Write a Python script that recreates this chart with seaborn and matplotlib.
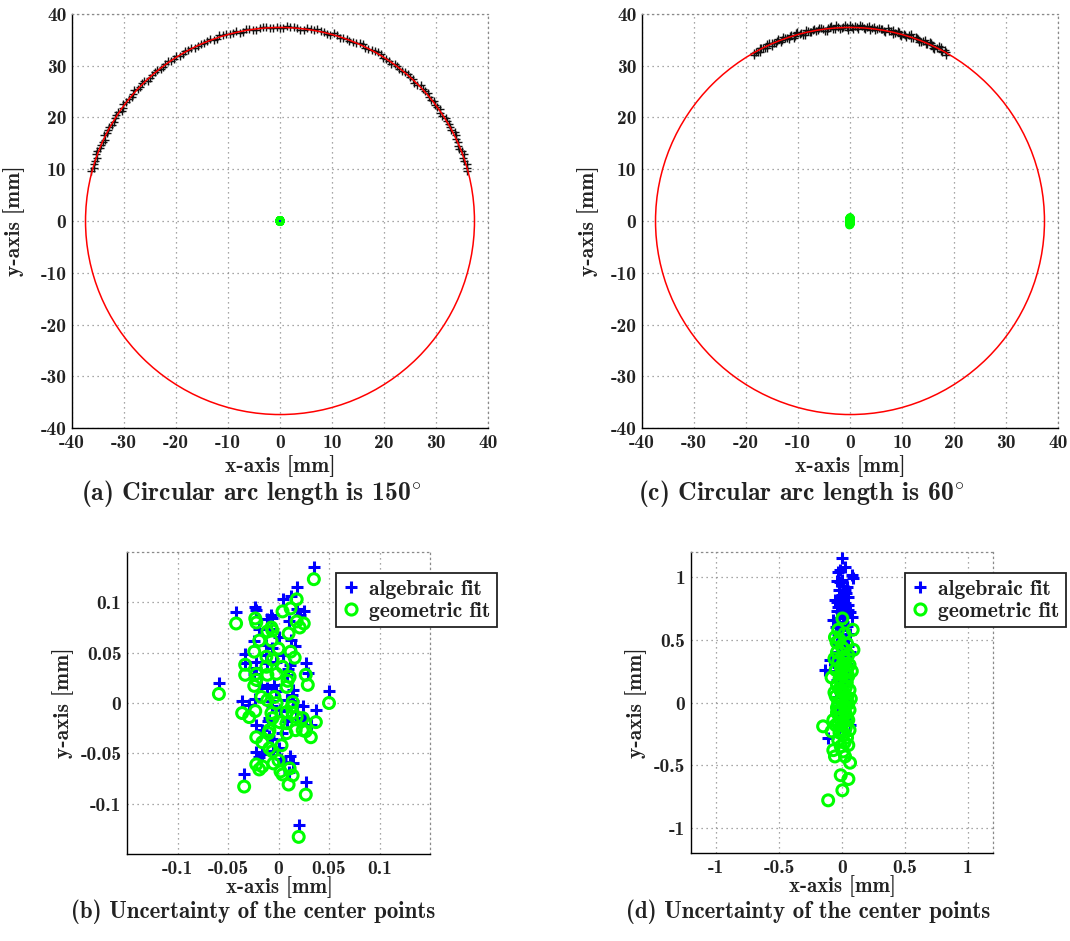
import numpy as np
import pandas as pd
import seaborn as sns
import matplotlib.pyplot as plt
from matplotlib.patches import Circle
from matplotlib.lines import Line2D
from matplotlib.ticker import MultipleLocator

# measured points on the arcs: angle [deg], radius [mm]
ang_a = [15, 17, 19, 21, 23, 25, 27, 29, 31, 33, 35, 37, 39, 41, 43, 45, 47, 49, 51, 53,
         55, 57, 59, 61, 63, 65, 67, 69, 71, 73, 75, 77, 79, 81, 83, 85, 87, 89, 91, 93,
         95, 97, 99, 101, 103, 105, 107, 109, 111, 113, 115, 117, 119, 121, 123, 125, 127, 129, 131, 133,
         135, 137, 139, 141, 143, 145, 147, 149, 151, 153, 155, 157, 159, 161, 163, 165]
rad_a = [37.2, 37.6, 37.3, 37.5, 37.1, 37.4, 37.7, 37.3, 37.5, 37.2,
         37.6, 37.4, 37.3, 37.7, 37.5, 37.2, 37.4, 37.6, 37.3, 37.5,
         37.1, 37.4, 37.6, 37.5, 37.3, 37.7, 37.4, 37.2, 37.5, 37.6,
         37.3, 37.4, 37.7, 37.5, 37.2, 37.4, 37.6, 37.3, 37.5, 37.4,
         37.6, 37.2, 37.5, 37.3, 37.7, 37.4, 37.5, 37.2, 37.6, 37.3,
         37.4, 37.6, 37.5, 37.2, 37.4, 37.7, 37.3, 37.5, 37.4, 37.1,
         37.6, 37.3, 37.5, 37.4, 37.7, 37.2, 37.5, 37.3, 37.6, 37.4,
         37.2, 37.5, 37.7, 37.3, 37.4, 37.6]
ang_a2 = [16, 18, 20, 22, 24, 26, 28, 30, 32, 34, 36, 38, 40, 42, 44, 46, 48, 50, 52, 54,
          56, 58, 60, 62, 64, 66, 68, 70, 72, 74, 76, 78, 80, 82, 84, 86, 88, 90, 92, 94,
          96, 98, 100, 102, 104, 106, 108, 110, 112, 114, 116, 118, 120, 122, 124, 126, 128, 130, 132, 134,
          136, 138, 140, 142, 144, 146, 148, 150, 152, 154, 156, 158, 160, 162, 164]
rad_a2 = [37.5, 37.3, 37.6, 37.2, 37.4, 37.7, 37.3, 37.5, 37.6, 37.2,
          37.4, 37.6, 37.3, 37.5, 37.7, 37.2, 37.4, 37.5, 37.3, 37.6,
          37.4, 37.2, 37.7, 37.5, 37.3, 37.6, 37.4, 37.5, 37.2, 37.7,
          37.3, 37.5, 37.4, 37.6, 37.2, 37.5, 37.7, 37.3, 37.4, 37.6,
          37.5, 37.3, 37.6, 37.2, 37.4, 37.5, 37.7, 37.3, 37.6, 37.4,
          37.2, 37.5, 37.3, 37.7, 37.4, 37.6, 37.2, 37.5, 37.3, 37.6,
          37.4, 37.7, 37.2, 37.5, 37.3, 37.6, 37.4, 37.2, 37.5, 37.7,
          37.3, 37.4, 37.6, 37.5, 37.2]

ang_c = [60, 61, 62, 63, 64, 65, 66, 67, 68, 69, 70, 71, 72, 73, 74, 75, 76, 77, 78, 79,
         80, 81, 82, 83, 84, 85, 86, 87, 88, 89, 90, 91, 92, 93, 94, 95, 96, 97, 98, 99,
         100, 101, 102, 103, 104, 105, 106, 107, 108, 109, 110, 111, 112, 113, 114, 115, 116, 117, 118, 119,
         120]
rad_c = [37.1, 37.7, 37.3, 37.9, 37.0, 37.5, 37.8, 37.2, 37.6, 37.0,
         37.7, 37.4, 37.9, 37.1, 37.6, 37.3, 37.8, 37.0, 37.5, 37.9,
         37.2, 37.6, 37.4, 37.8, 37.1, 37.7, 37.3, 38.0, 37.5, 37.2,
         37.8, 37.4, 37.6, 37.1, 37.9, 37.3, 37.7, 37.0, 37.5, 37.8,
         37.2, 37.6, 37.4, 37.9, 37.1, 37.5, 37.7, 37.0, 37.6, 37.3,
         37.8, 37.1, 37.5, 37.4, 37.0, 37.7, 37.2, 37.6, 36.9, 37.4,
         37.1]
ang_c2 = [60.5, 61.5, 62.5, 63.5, 64.5, 65.5, 66.5, 67.5, 68.5, 69.5,
          70.5, 71.5, 72.5, 73.5, 74.5, 75.5, 76.5, 77.5, 78.5, 79.5,
          80.5, 81.5, 82.5, 83.5, 84.5, 85.5, 86.5, 87.5, 88.5, 89.5,
          90.5, 91.5, 92.5, 93.5, 94.5, 95.5, 96.5, 97.5, 98.5, 99.5,
          100.5, 101.5, 102.5, 103.5, 104.5, 105.5, 106.5, 107.5, 108.5, 109.5,
          110.5, 111.5, 112.5, 113.5, 114.5, 115.5, 116.5, 117.5, 118.5, 119.5]
rad_c2 = [37.6, 37.2, 37.8, 37.4, 37.0, 37.7, 37.3, 37.9, 37.1, 37.5,
          37.8, 37.2, 37.6, 37.4, 37.0, 37.7, 37.3, 37.9, 37.5, 37.1,
          37.6, 37.8, 37.2, 37.5, 37.9, 37.3, 37.7, 37.1, 37.6, 37.4,
          37.0, 37.8, 37.3, 37.6, 37.2, 37.9, 37.5, 37.1, 37.7, 37.4,
          37.8, 37.2, 37.6, 37.0, 37.5, 37.9, 37.3, 37.7, 37.1, 37.6,
          37.4, 37.8, 37.2, 37.5, 37.7, 37.0, 37.4, 37.6, 37.1, 37.3]

R_FIT = 37.4

# fitted centre points, 150 deg arc
geo_x_b = [0.035, -0.042, 0.018, 0.004, 0.012, -0.023, -0.022, -0.007, -0.006, -0.011,
           0.018, 0.021, 0.025, 0.010, -0.019, -0.007, -0.024, 0.000, 0.012, 0.016,
           -0.033, -0.033, -0.012, -0.006, -0.012, 0.004, -0.002, -0.011, -0.022, -0.022,
           -0.024, 0.027, 0.029, 0.011, 0.009, 0.008, -0.059, -0.017, -0.011, -0.004,
           -0.002, 0.014, 0.013, 0.008, 0.050, -0.036, -0.029, -0.023, -0.007, -0.006,
           0.001, 0.008, 0.018, 0.024, 0.037, 0.014, -0.009, -0.010, 0.008, 0.017,
           0.024, 0.027, -0.022, -0.016, 0.032, 0.003, -0.009, -0.006, -0.022, -0.019,
           -0.016, -0.005, 0.000, 0.002, 0.004, 0.011, 0.014, 0.010, -0.034, 0.027,
           0.020]
geo_y_b = [0.123, 0.079, 0.103, 0.091, 0.094, 0.084, 0.080, 0.075, 0.072, 0.071,
           0.081, 0.075, 0.079, 0.069, 0.062, 0.062, 0.051, 0.054, 0.051, 0.045,
           0.038, 0.028, 0.046, 0.043, 0.036, 0.036, 0.029, 0.028, 0.029, 0.023,
           0.017, 0.028, 0.018, 0.026, 0.022, 0.016, 0.009, 0.006, 0.003, 0.006,
           0.000, 0.001, -0.004, -0.009, 0.000, -0.010, -0.014, -0.008, -0.010, -0.015,
           -0.019, -0.020, -0.014, -0.015, -0.019, -0.010, -0.027, -0.030, -0.030, -0.027,
           -0.027, -0.028, -0.034, -0.039, -0.034, -0.042, -0.045, -0.048, -0.061, -0.066,
           -0.063, -0.060, -0.057, -0.068, -0.071, -0.065, -0.072, -0.081, -0.083, -0.091,
           -0.133]
alg_x_b = geo_x_b
alg_y_b = [0.135, 0.090, 0.115, 0.103, 0.106, 0.095, 0.092, 0.087, 0.084, 0.083,
           0.093, 0.087, 0.091, 0.081, 0.074, 0.074, 0.062, 0.066, 0.063, 0.057,
           0.049, 0.040, 0.058, 0.055, 0.048, 0.048, 0.041, 0.040, 0.041, 0.035,
           0.029, 0.040, 0.030, 0.038, 0.034, 0.028, 0.020, 0.018, 0.015, 0.018,
           0.012, 0.013, 0.008, 0.003, 0.012, 0.002, -0.002, 0.004, 0.002, -0.003,
           -0.007, -0.008, -0.002, -0.003, -0.007, 0.002, -0.015, -0.018, -0.018, -0.015,
           -0.015, -0.016, -0.022, -0.027, -0.022, -0.030, -0.033, -0.036, -0.049, -0.054,
           -0.051, -0.048, -0.045, -0.056, -0.059, -0.053, -0.060, -0.069, -0.071, -0.078,
           -0.121]

# fitted centre points, 60 deg arc
geo_x_d = [0.003, 0.085, -0.030, -0.056, -0.043, 0.091, 0.078, 0.038, -0.083, -0.150,
           -0.083, -0.069, 0.064, -0.010, 0.051, 0.003, -0.110, -0.069, -0.056, 0.010,
           0.024,
           0.02, -0.02, 0.04, 0.00, -0.04, 0.05, 0.01, -0.03, 0.03, 0.06,
           -0.01, -0.05, 0.02, 0.05, -0.02, 0.00, -0.04, 0.03, 0.06, -0.01,
           0.02, -0.05, 0.04, 0.00, -0.03, 0.05, 0.02, -0.01, 0.06, -0.04,
           0.03, 0.00, -0.02, 0.05, 0.01, -0.05, 0.03, 0.06, -0.02, 0.01,
           0.04, -0.03, 0.02, 0.05, -0.01, 0.03, -0.02, 0.04, -0.06, 0.01,
           -0.03, 0.00, 0.04, -0.01, 0.02, -0.06, 0.07, -0.04, 0.00, 0.03]
geo_y_d = [0.67, 0.58, 0.58, 0.52, 0.48, 0.42, 0.25, 0.16, 0.20, -0.19,
           -0.23, -0.14, -0.48, -0.58, -0.61, -0.70, -0.78, -0.38, -0.43, -0.39,
           -0.43,
           0.55, 0.50, 0.47, 0.44, 0.40, 0.38, 0.36, 0.33, 0.31, 0.30,
           0.28, 0.26, 0.24, 0.21, 0.19, 0.17, 0.14, 0.12, 0.10, 0.09,
           0.07, 0.05, 0.04, 0.02, 0.00, -0.01, -0.03, -0.05, -0.06, -0.08,
           -0.09, -0.11, -0.13, -0.14, -0.16, -0.18, -0.20, -0.22, -0.24, -0.26,
           -0.28, -0.30, -0.32, -0.34, -0.35, 0.00, 0.11, 0.26, 0.35, 0.43,
           -0.17, -0.22, -0.12, 0.22, 0.34, 0.08, 0.03, -0.04, 0.30, 0.18]
alg_x_d = [0.003, -0.016, -0.030, 0.078, 0.085, -0.043, -0.016, 0.024, -0.003, -0.056,
           0.051, -0.030, 0.064, -0.069, 0.078, -0.136, -0.096, -0.110,
           0.01, -0.02, 0.03, 0.00, -0.04, 0.02, 0.05, -0.01, 0.03, -0.03,
           0.01, 0.04, -0.05, 0.00, 0.06, -0.02, 0.02, -0.04, 0.05, 0.01,
           -0.02, 0.03, -0.06, 0.00, 0.04, -0.03, 0.02, -0.01, 0.05, -0.04,
           0.01, 0.03, -0.02, 0.00, 0.04, -0.05, 0.02, -0.01, 0.05, 0.01,
           -0.03, 0.03, 0.00, 0.06, -0.02, 0.02, -0.01, 0.04, -0.03, 0.01,
           0.06, -0.05, 0.03, -0.02, 0.00, 0.02, -0.04, 0.05, -0.01, 0.02]
alg_y_d = [1.15, 1.06, 1.04, 1.02, 0.99, 0.97, 0.96, 0.90, 0.86, 0.82,
           0.78, 0.76, 0.72, 0.66, 0.68, 0.26, 0.34, -0.28,
           0.93, 0.90, 0.87, 0.84, 0.80, 0.79, 0.74, 0.72, 0.69, 0.67,
           0.64, 0.61, 0.60, 0.58, 0.55, 0.53, 0.50, 0.47, 0.45, 0.43,
           0.40, 0.38, 0.36, 0.33, 0.31, 0.28, 0.26, 0.23, 0.21, 0.18,
           0.16, 0.13, 0.11, 0.08, 0.06, 0.04, 0.02, -0.01, -0.03, -0.06,
           -0.09, -0.12, -0.15, -0.18, -0.20, 0.70, 0.81, 0.92, 0.55, 0.47,
           0.40, 0.25, 0.00, 0.62, 0.98, 1.08, 0.73, 0.84, 0.35, -0.10]

big_ticks = [-40, -30, -20, -10, 0, 10, 20, 30, 40]
big_labels = ['-40', '-30', '-20', '-10', '0', '10', '20', '30', '40']
b_ticks = [-0.1, -0.05, 0, 0.05, 0.1]
b_labels = ['-0.1', '-0.05', '0', '0.05', '0.1']
d_ticks = [-1, -0.5, 0, 0.5, 1]
d_labels = ['-1', '-0.5', '0', '0.5', '1']

BLUE = '#0000ff'
GREEN = '#00ff00'
RED = '#ff0000'
TXT = '#222222'
GRID = (0, (1, 3))

sns.set_style('white')
plt.rcParams['font.family'] = ['cmb10', 'DejaVu Serif']
plt.rcParams['mathtext.fontset'] = 'cm'
plt.rcParams['axes.unicode_minus'] = False
plt.rcParams['text.color'] = TXT


def arc_points(angles, radii):
    t = np.deg2rad(np.array(angles, dtype=float))
    r = np.array(radii)
    return pd.DataFrame({'x': r * np.cos(t), 'y': r * np.sin(t)})


def style_axes(ax, lim, ticks, labels, minor=None):
    ax.set_xlim(-lim, lim)
    ax.set_ylim(-lim, lim)
    ax.set_xticks(ticks)
    ax.set_xticklabels(labels)
    ax.set_yticks(ticks)
    ax.set_yticklabels(labels)
    if minor:
        ax.xaxis.set_minor_locator(MultipleLocator(minor))
        ax.yaxis.set_minor_locator(MultipleLocator(minor))
        ax.tick_params(which='minor', direction='in', length=2, width=0.7)
    ax.grid(True, which='major', linestyle=GRID, color='#8a8a8a', linewidth=0.9)
    for s in ['left', 'bottom']:
        ax.spines[s].set_color('black')
        ax.spines[s].set_linewidth(1.0)
    for s in ['top', 'right']:
        ax.spines[s].set_color('#8a8a8a')
        ax.spines[s].set_linestyle(GRID)
        ax.spines[s].set_linewidth(0.9)
    ax.tick_params(which='major', direction='in', length=4, width=0.8,
                   labelsize=14, pad=4, colors=TXT, top=False, right=False)
    ax.tick_params(axis='both', color='black')
    ax.set_xlabel('')
    ax.set_ylabel('')


W, H = 1070, 941
fig = plt.figure(figsize=(W / 100, H / 100), dpi=100)


def px_axes(l, t, r, b):
    return fig.add_axes([l / W, 1 - b / H, (r - l) / W, (b - t) / H])


def arc_panel(ax, arcs, cx_alg, cy_alg, cx_geo, cy_geo):
    df = pd.concat([arc_points(a, r) for a, r in arcs], ignore_index=True)
    sns.scatterplot(data=df, x='x', y='y', marker='+', color='#111111', s=30,
                    linewidth=1.0, ax=ax, zorder=3)
    ax.add_patch(Circle((0, 0), R_FIT, fill=False, edgecolor=RED, linewidth=1.1, zorder=4))
    sns.scatterplot(x=cx_alg, y=cy_alg, marker='+', color=BLUE, s=10, linewidth=1.0,
                    ax=ax, zorder=5)
    sns.scatterplot(x=cx_geo, y=cy_geo, marker='o', s=22, facecolor='none',
                    edgecolor=GREEN, linewidth=1.6, ax=ax, zorder=6)
    style_axes(ax, 40, big_ticks, big_labels, minor=2)


def centre_panel(ax, lim, ticks, labels, ax_, ay_, gx, gy, leg_xy):
    sns.scatterplot(x=ax_, y=ay_, marker='+', color=BLUE, s=70, linewidth=2.2,
                    ax=ax, zorder=3)
    sns.scatterplot(x=gx, y=gy, marker='o', s=62, facecolor='none',
                    edgecolor=GREEN, linewidth=2.2, ax=ax, zorder=4)
    style_axes(ax, lim, ticks, labels)
    handles = [Line2D([], [], marker='+', ls='none', color=BLUE, mew=2.2, ms=9),
               Line2D([], [], marker='o', ls='none', mfc='none', mec=GREEN, mew=2.2, ms=8)]
    leg = ax.legend(handles, ['algebraic fit', 'geometric fit'], loc='upper left',
                    bbox_to_anchor=(leg_xy[0] / W, 1 - leg_xy[1] / H),
                    bbox_transform=fig.transFigure, frameon=True, fancybox=False,
                    framealpha=1, edgecolor='#222222', fontsize=15.5,
                    handlelength=0.8, handletextpad=0.45, borderpad=0.3,
                    labelspacing=0.15, borderaxespad=0)
    leg.get_frame().set_linewidth(1.3)
    leg.set_zorder(10)


ax_a = px_axes(72, 14, 488, 428)
arc_panel(ax_a, [(ang_a, rad_a), (ang_a2, rad_a2)], alg_x_b, alg_y_b, geo_x_b, geo_y_b)

ax_c = px_axes(642, 14, 1058, 428)
arc_panel(ax_c, [(ang_c, rad_c), (ang_c2, rad_c2)], alg_x_d, alg_y_d, geo_x_d, geo_y_d)

ax_b = px_axes(127, 552, 430, 854)
centre_panel(ax_b, 0.15, b_ticks, b_labels, alg_x_b, alg_y_b, geo_x_b, geo_y_b, (336, 573))

ax_d = px_axes(691, 552, 993, 853)
centre_panel(ax_d, 1.2, d_ticks, d_labels, alg_x_d, alg_y_d, geo_x_d, geo_y_d, (905, 573))


def ftext(x, y, s, size=15.5, rot=0):
    fig.text(x / W, 1 - y / H, s, ha='center', va='center', fontsize=size,
             rotation=rot, color=TXT)


ftext(280, 466, 'x-axis [mm]')
ftext(14, 221, 'y-axis [mm]', rot=90)
ftext(850, 466, 'x-axis [mm]')
ftext(588, 221, 'y-axis [mm]', rot=90)
ftext(279, 887, 'x-axis [mm]', size=15)
ftext(63, 703, 'y-axis [mm]', rot=90)
ftext(842, 886, 'x-axis [mm]', size=15)
ftext(636, 703, 'y-axis [mm]', rot=90)

ftext(251, 494, r'(a) Circular arc length is 150$^{\circ}$', size=18.5)
ftext(801, 494, r'(c) Circular arc length is 60$^{\circ}$', size=18.5)
ftext(253, 912, '(b) Uncertainty of the center points', size=16.5)
ftext(808, 912, '(d) Uncertainty of the center points', size=16.5)

fig.savefig('out.png', dpi=100)
